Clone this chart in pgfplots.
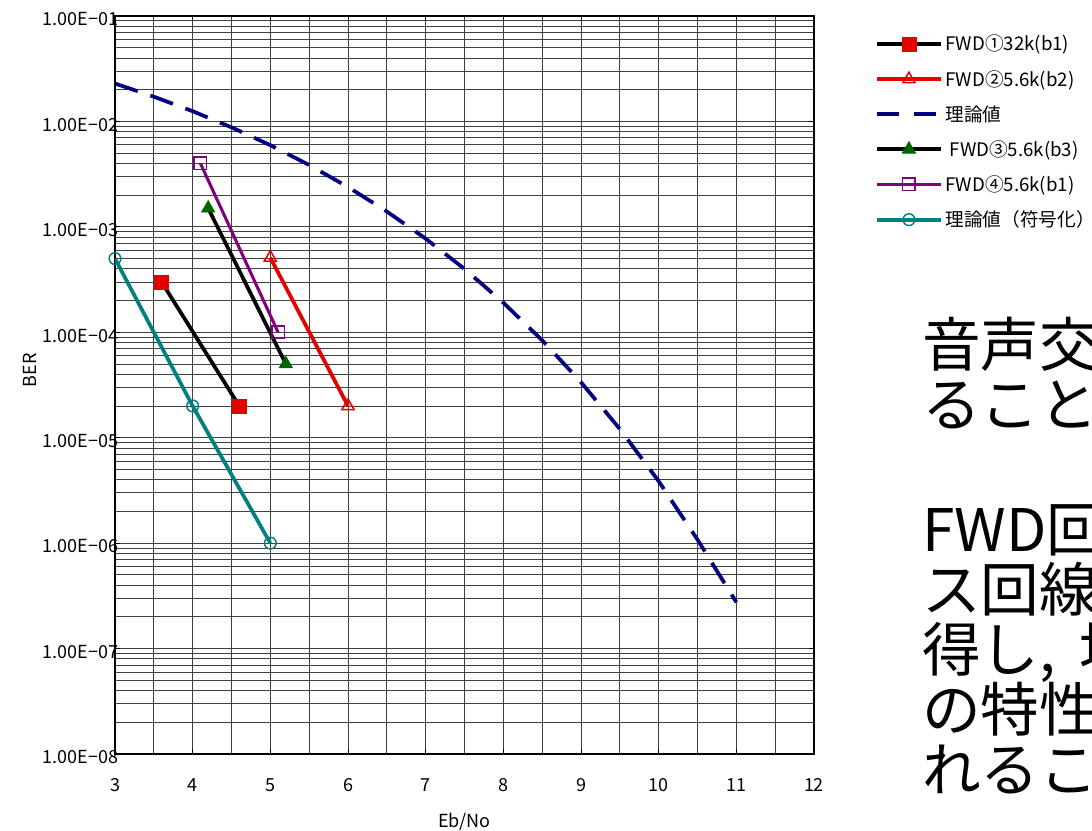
\documentclass[border=0pt]{standalone}
\usepackage{pgfplots}
\pgfplotsset{compat=1.18}
\usepackage{fontspec}
\setmainfont{Noto Sans CJK JP}
\definecolor{myred}{RGB}{228,0,0}
\definecolor{mygreen}{RGB}{0,100,0}
\definecolor{mypurple}{RGB}{128,0,128}
\definecolor{myteal}{RGB}{0,128,128}
\definecolor{mynavy}{RGB}{0,0,128}
\begin{document}
\begin{tikzpicture}
\useasboundingbox (-86.25pt,-57.75pt) rectangle (732.75pt,565.5pt);
\clip (-86.25pt,-57.75pt) rectangle (732.75pt,565.5pt);
\begin{axis}[
  scale only axis, width=524.25pt, height=553.5pt,
  xmin=3, xmax=12, ymin=1e-8, ymax=1e-1, ymode=log,
  xtick={3,4,5,6,7,8,9,10,11,12},
  xticklabels={3,4,5,6,7,8,9,10,11,12},
  minor xtick={3.5,4.5,5.5,6.5,7.5,8.5,9.5,10.5,11.5},
  ytick={1e-8,1e-7,1e-6,1e-5,1e-4,1e-3,1e-2,1e-1},
  yticklabels={1.00E−08,1.00E−07,1.00E−06,1.00E−05,1.00E−04,1.00E−03,1.00E−02,1.00E−01},
  minor ytick={2e-8,3e-8,4e-8,5e-8,6e-8,7e-8,8e-8,9e-8,
               2e-7,3e-7,4e-7,5e-7,6e-7,7e-7,8e-7,9e-7,
               2e-6,3e-6,4e-6,5e-6,6e-6,7e-6,8e-6,9e-6,
               2e-5,3e-5,4e-5,5e-5,6e-5,7e-5,8e-5,9e-5,
               2e-4,3e-4,4e-4,5e-4,6e-4,7e-4,8e-4,9e-4,
               2e-3,3e-3,4e-3,5e-3,6e-3,7e-3,8e-3,9e-3,
               2e-2,3e-2,4e-2,5e-2,6e-2,7e-2,8e-2,9e-2},
  grid=both,
  major grid style={black!75, line width=0.6pt},
  minor grid style={black!75, line width=0.6pt},
  axis line style={black, line width=0.9pt},
  tick style={black, line width=0.6pt},
  tick align=inside, major tick length=4pt, minor tick length=0pt,
  ticklabel style={font=\fontsize{13.5}{15}\selectfont},
  yticklabel style={anchor=east, inner sep=0pt, xshift=2.5pt, yshift=-2.5pt},
  xticklabel style={anchor=north, inner sep=0pt, yshift=-18pt},
  xlabel={Eb/No}, ylabel={BER},
  label style={font=\fontsize{13.5}{15}\selectfont},
  xlabel style={at={(axis description cs:0.5,-0.092)}, anchor=center},
  ylabel style={at={(axis description cs:-0.1216,0.52)}, anchor=center},
  legend cell align=left,
  legend style={at={(rel axis cs:1.087,0.978)}, anchor=north west, draw=none, fill=none,
    font=\fontsize{14}{15}\selectfont, row sep=9pt, inner sep=0pt},
  legend image code/.code={\draw[mark repeat=2,mark phase=2] plot coordinates {(0pt,0pt) (24pt,0pt) (48pt,0pt)};},
]
\addplot[black, line width=2.8pt, mark=square*, mark size=5.25pt,
  mark options={solid, draw=myred, fill=myred, line width=0.5pt}]
  coordinates {(3.6,3.0e-4) (4.6,2.0e-5)};
\addlegendentry{FWD①32k(b1)}
\addplot[myred, line width=2.8pt, mark=triangle, mark size=5.3pt,
  mark options={solid, draw=myred, fill=none, line width=1.1pt}]
  coordinates {(5.0,5.1e-4) (6.0,2.0e-5)};
\addlegendentry{FWD②5.6k(b2)}
\addplot[mynavy, line width=2.8pt, dash pattern=on 18pt off 10pt,
  legend image code/.code={\draw[dash pattern=on 16.5pt off 11pt] (0pt,0pt) -- (45pt,0pt);}]
  coordinates {(3.0,2.288e-2) (3.5,1.717e-2) (4.0,1.250e-2) (4.5,8.79e-3) (5.0,5.954e-3)
   (5.5,3.863e-3) (6.0,2.388e-3) (6.5,1.399e-3) (7.0,7.73e-4) (7.5,3.99e-4) (8.0,1.91e-4)
   (8.5,8.40e-5) (9.0,3.36e-5) (9.5,1.21e-5) (10.0,3.87e-6) (10.5,1.08e-6) (11.0,2.75e-7)};
\addlegendentry{理論値}
\addplot[black, line width=2.8pt, mark=triangle*, mark size=5.8pt,
  mark options={solid, draw=mygreen, fill=mygreen, line width=0.5pt}]
  coordinates {(4.2,1.5e-3) (5.2,5.0e-5)};
\addlegendentry{\ FWD③5.6k(b3)}
\addplot[mypurple, line width=2.3pt, mark=square, mark size=4.7pt,
  mark options={solid, draw=mypurple, fill=none, line width=1.1pt}]
  coordinates {(4.1,4.0e-3) (5.1,1.0e-4)};
\addlegendentry{FWD④5.6k(b1)}
\addplot[myteal, line width=2.8pt, mark=o, mark size=4.4pt,
  mark options={solid, draw=myteal, fill=none, line width=1.1pt}]
  coordinates {(3.0,5.0e-4) (4.0,2.0e-5) (5.0,1.0e-6)};
\addlegendentry{理論値（符号化）}
\end{axis}
\begin{scope}[every node/.style={anchor=base west, inner sep=0pt, font=\fontsize{44}{45}\selectfont}]
\node at (605.25pt,290.25pt) {音声交換};
\node at (605.25pt,245.25pt) {ることを};
\node at (605.25pt,151.5pt) {FWD回線};
\node at (605.25pt,106.5pt) {ス回線と};
\node at (605.25pt,61.5pt) {得し,\hspace{18pt}地};
\node at (605.25pt,16.5pt) {の特性が};
\node at (605.25pt,-28.5pt) {れること};
\end{scope}
\end{tikzpicture}
\end{document}
